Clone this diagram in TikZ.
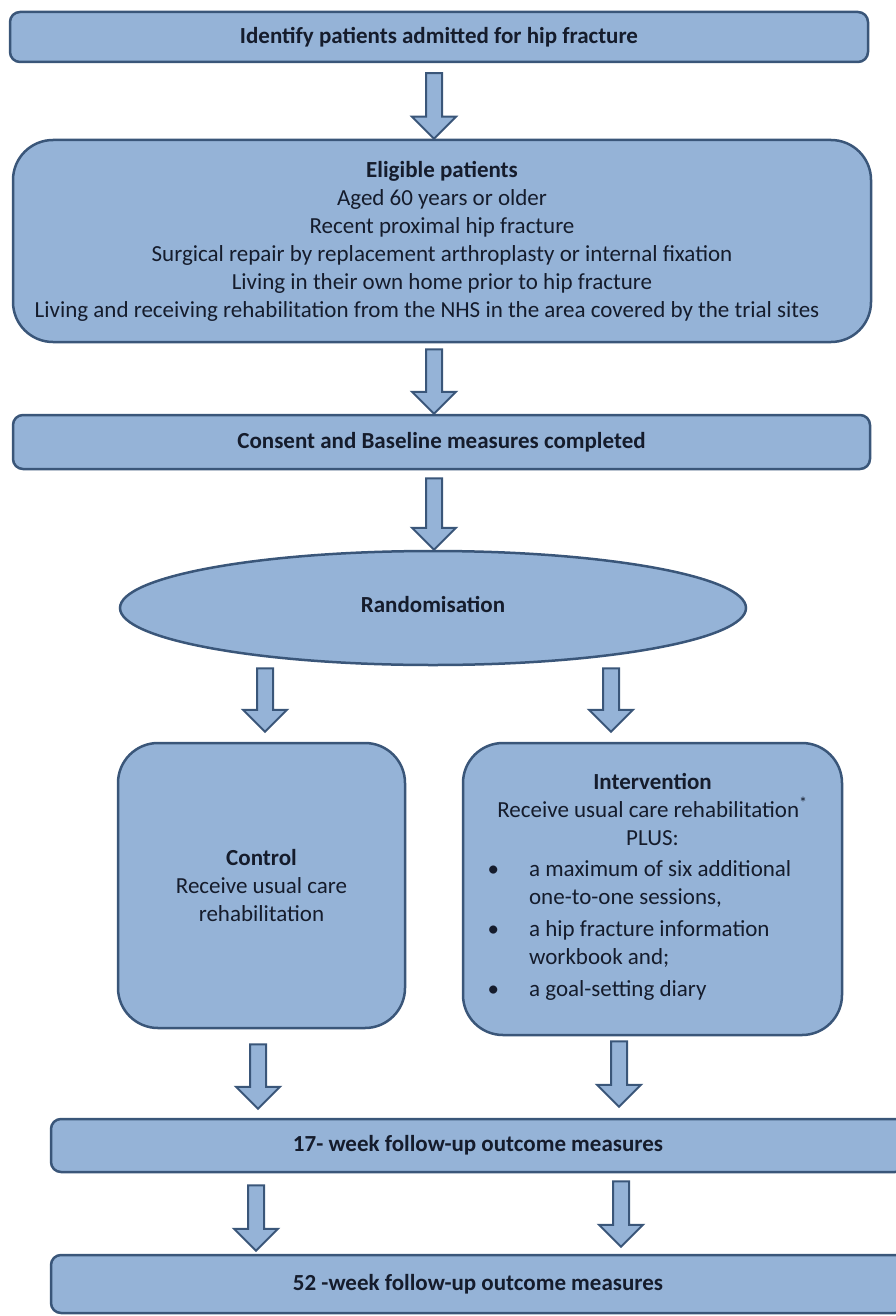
\documentclass[tikz,border=0pt]{standalone}
\usepackage{fontspec}
\setmainfont{Carlito}
\usetikzlibrary{calc,shapes.geometric}
\definecolor{boxblue}{HTML}{95B3D7}
\definecolor{edgeblue}{HTML}{3A5679}
\definecolor{inkblue}{HTML}{151C2C}
\tikzset{
  flowbox/.style={draw=edgeblue, fill=boxblue, line width=2.5pt, rounded corners=10pt,
    text=inkblue, align=center, inner sep=0pt},
  bigbox/.style={flowbox, rounded corners=40pt},
  blockarrow/.style={draw=edgeblue, fill=boxblue, line width=2pt, line join=miter,
    to path={let \p1=(\tikztostart), \p2=(\tikztotarget) in
      (\x1-8pt,\y1) -- (\x1+8pt,\y1) -- (\x1+8pt,\y2+22pt) -- (\x1+22pt,\y2+22pt)
      -- (\x1,\y2) -- (\x1-22pt,\y2+22pt) -- (\x1-8pt,\y2+22pt) -- cycle}}
}
\begin{document}
\begin{tikzpicture}[x=1pt,y=-1pt,font=\fontsize{23}{28}\selectfont]
  \useasboundingbox (0,0) rectangle (896,1316);
  \clip (0,0) rectangle (896,1316);

  \node[flowbox, minimum width=858pt, minimum height=50pt] (ident) at (439,37)
    {\textbf{Identify patients admitted for hip fracture}};
  \node[bigbox, minimum width=858pt, minimum height=202pt] (elig) at (442,241)
    {\textbf{Eligible patients}\\ Aged 60 years or older\\ Recent proximal hip fracture\\
     Surgical repair by replacement arthroplasty or internal fixation\\
     Living in their own home prior to hip fracture\\
     \hspace*{-30pt}Living and receiving rehabilitation from the NHS in the area covered by the trial sites};
  \node[flowbox, minimum width=857pt, minimum height=54pt] (consent) at (441.5,442)
    {\textbf{Consent and Baseline measures completed}};
  \node[ellipse, draw=edgeblue, fill=boxblue, line width=2.5pt, text=inkblue, inner sep=0pt,
    minimum width=626pt, minimum height=114pt] (rand) at (433,608)
    {\raisebox{7pt}{\textbf{Randomisation}}};
  \node[bigbox, minimum width=287pt, minimum height=285pt] (ctrl) at (261.5,885.5)
    {\textbf{Control}\\ Receive usual care\\ rehabilitation};
  \node[bigbox, minimum width=379pt, minimum height=292pt] (interv) at (652.5,889)
    {\textbf{Intervention}\\ Receive usual care rehabilitation\textsuperscript{*}\\ PLUS:\\[10pt]
     \hspace*{-26pt}\begin{tabular}{@{}l@{\hspace{30pt}}l@{}}
       \textbullet & a maximum of six additional\\
                   & one-to-one sessions,\\[4pt]
       \textbullet & a hip fracture information\\
                   & workbook and;\\[4pt]
       \textbullet & a goal-setting diary
     \end{tabular}};
  \node[flowbox, minimum width=854pt, minimum height=53pt] (fu17) at (478,1145.5)
    {\textbf{17- week follow-up outcome measures}};
  \node[flowbox, minimum width=854pt, minimum height=58pt] (fu52) at (478,1284)
    {\textbf{52 -week follow-up outcome measures}};

  \draw[blockarrow] ([xshift=-5pt,yshift=-10pt]ident.south) to (elig.north);
  \draw[blockarrow] ([xshift=-8pt,yshift=-6pt]elig.south) to (consent.north);
  \draw[blockarrow] ([xshift=-7.5pt,yshift=-8pt]consent.south) to (rand.north);
  \draw[blockarrow] ([xshift=-168pt,yshift=-2pt]rand.south) to ([yshift=10pt]ctrl.north);
  \draw[blockarrow] ([xshift=178pt,yshift=-2pt]rand.south) to ([yshift=10pt]interv.north);
  \draw[blockarrow] ([xshift=-3.5pt,yshift=-15pt]ctrl.south) to ([yshift=9pt]fu17.north);
  \draw[blockarrow] ([xshift=-33.5pt,yshift=-5pt]interv.south) to ([yshift=11pt]fu17.north);
  \draw[blockarrow] ([xshift=-222pt,yshift=-12pt]fu17.south) to ([yshift=3pt]fu52.north);
  \draw[blockarrow] ([xshift=143pt,yshift=-8pt]fu17.south) to ([yshift=7pt]fu52.north);
\end{tikzpicture}
\end{document}
